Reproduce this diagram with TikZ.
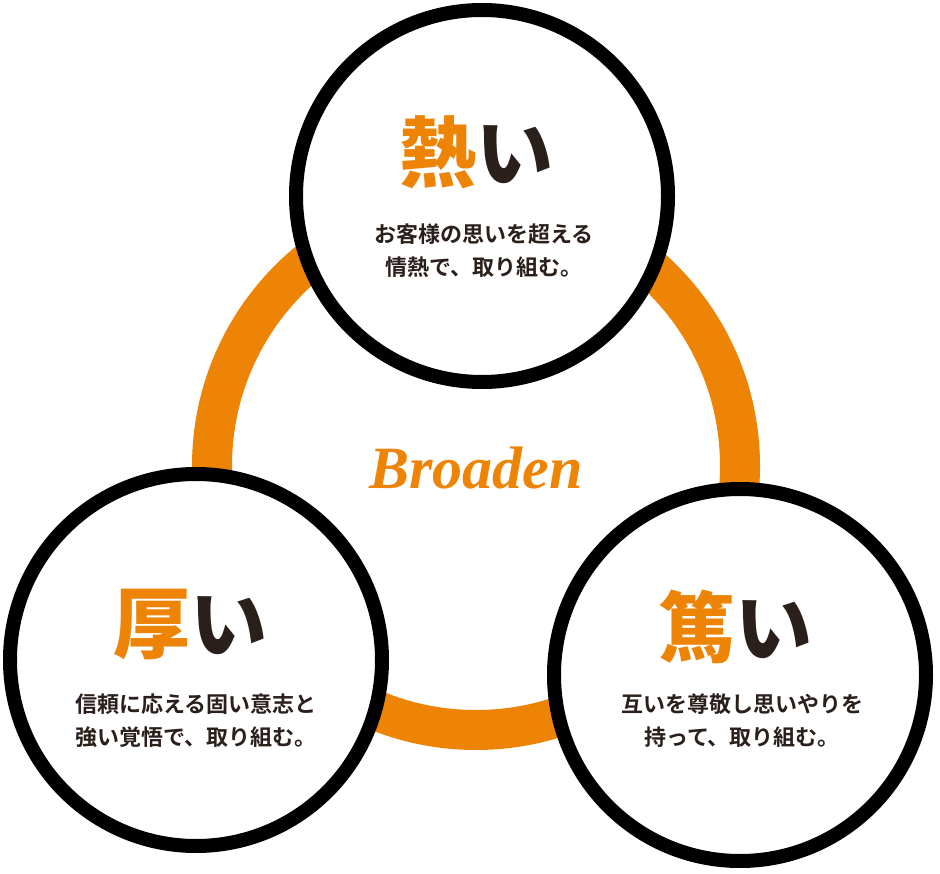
\documentclass[tikz,border=0pt]{standalone}
\usepackage{fontspec}
\newfontfamily\cjk{Noto Sans CJK JP Bold}
\newfontfamily\cjkblack{Noto Sans CJK JP Black}
\newfontfamily\logo{Liberation Serif}
\definecolor{orng}{HTML}{EE8406}
\definecolor{brwn}{HTML}{2A1F1A}
\begin{document}
\begin{tikzpicture}[x=1pt,y=-1pt,
  bigc/.style={circle,draw=black,line width=14pt,fill=white,minimum size=372pt,inner sep=0pt},
  title/.style={font=\cjkblack\fontsize{77}{77}\selectfont,inner sep=0pt},
  sub/.style={font=\cjk\fontsize{22}{33}\selectfont,align=center,text=brwn,inner sep=0pt}]
\useasboundingbox (0,0) rectangle (940,874);
\draw[orng,line width=40pt] (476,466) circle[radius=264];
\node[bigc] (top) at (482,196) {};
\node[bigc] (left) at (196,660) {};
\node[bigc] (right) at (740,675) {};
\node[title] (t1) at (476,152) {\textcolor{orng}{熱}\textcolor{brwn}{い}};
\node[sub] (s1) at (484,251) {お客様の思いを超える\\情熱で、取り組む。};
\node[title] (t2) at (190,625) {\textcolor{orng}{厚}\textcolor{brwn}{い}};
\node[sub] (s2) at (196,721) {信頼に応える固い意志と\\強い覚悟で、取り組む。};
\node[title] (t3) at (735,627) {\textcolor{orng}{篤}\textcolor{brwn}{い}};
\node[sub] (s3) at (742,721) {互いを尊敬し思いやりを\\持って、取り組む。};
\node[font=\logo\itshape\bfseries\fontsize{60}{60}\selectfont,text=orng] (logo) at (476,468) {Broaden};
\end{tikzpicture}
\end{document}
